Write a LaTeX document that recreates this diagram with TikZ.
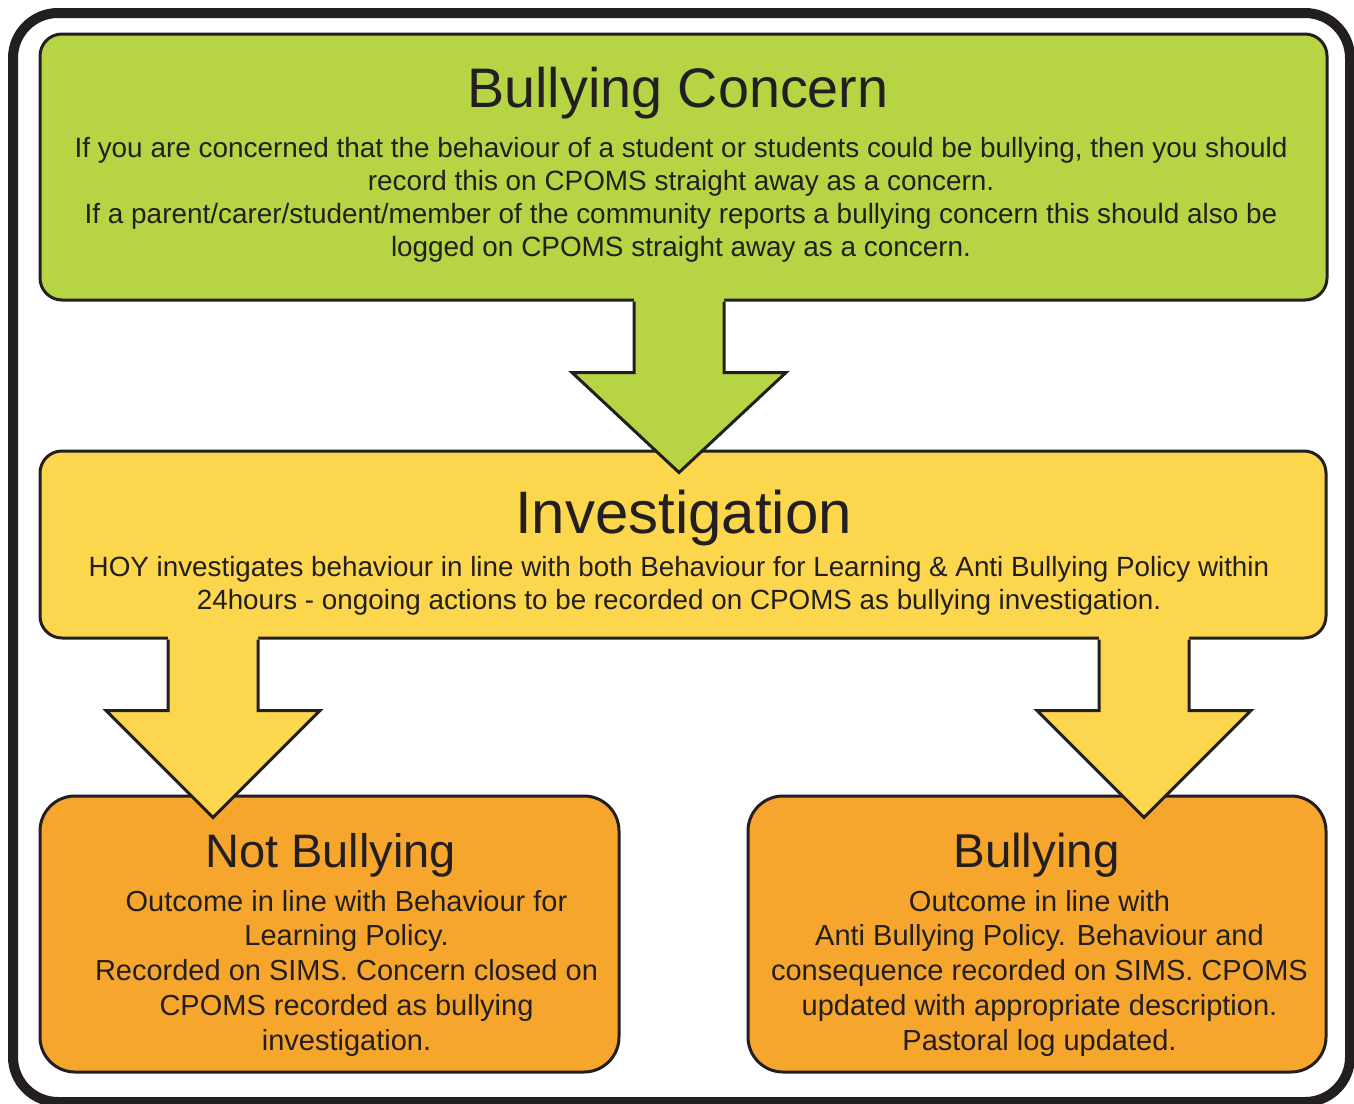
\documentclass[tikz,border=0pt]{standalone}
\usepackage{fontspec}
\setmainfont{Liberation Sans}
\usetikzlibrary{calc}
\definecolor{boxgreen}{HTML}{B6D443}
\definecolor{boxyellow}{HTML}{FCD64C}
\definecolor{boxorange}{HTML}{F6A62C}
\definecolor{ink}{HTML}{231F20}
\newcommand{\blockarrow}[4]{%
  \fill[#4] let \p1=(#1.south), \p2=(#2.north) in
    (\x1+#3pt-45pt,\y1+4pt) -- (\x1+#3pt-45pt,\y1-71pt) -- (\x1+#3pt-107pt,\y1-71pt)
    -- (\x1+#3pt,\y2-23pt) -- (\x1+#3pt+107pt,\y1-71pt) -- (\x1+#3pt+45pt,\y1-71pt)
    -- (\x1+#3pt+45pt,\y1+4pt) -- cycle;
  \draw[arrowline] let \p1=(#1.south), \p2=(#2.north) in
    (\x1+#3pt-45pt,\y1) -- (\x1+#3pt-45pt,\y1-71pt) -- (\x1+#3pt-107pt,\y1-71pt)
    -- (\x1+#3pt,\y2-23pt) -- (\x1+#3pt+107pt,\y1-71pt) -- (\x1+#3pt+45pt,\y1-71pt)
    -- (\x1+#3pt+45pt,\y1);
}
\begin{document}
\begin{tikzpicture}[x=1pt,y=-1pt,
  box/.style={draw=ink, line width=3pt, inner sep=0pt},
  arrowline/.style={draw=ink, line width=3pt, line join=miter},
  title/.style={inner sep=0pt, anchor=north, text=ink},
  body/.style={inner sep=0pt, anchor=north, align=center, text=ink}]
\useasboundingbox (0,0) rectangle (1354,1103);
\fill[white] (0,0) rectangle (1354,1103);
\node[draw=ink, line width=10pt, rounded corners=45pt, minimum width=1337pt, minimum height=1089pt, inner sep=0pt] (frame) at (681.5,557.5) {};
\node[box, fill=boxgreen, rounded corners=22pt, minimum width=1287pt, minimum height=266pt] (concern) at (683.5,167) {};
\node[box, fill=boxyellow, rounded corners=22pt, minimum width=1286pt, minimum height=187pt] (invest) at (683,544.5) {};
\node[box, fill=boxorange, rounded corners=35pt, minimum width=579pt, minimum height=276pt] (notb) at (329.5,934) {};
\node[box, fill=boxorange, rounded corners=35pt, minimum width=578pt, minimum height=276pt] (isb) at (1037,934) {};
\blockarrow{concern}{invest}{-4.5}{boxgreen}
\blockarrow{invest}{notb}{-470}{boxyellow}
\blockarrow{invest}{isb}{461}{boxyellow}
\node[title, font=\fontsize{55.7}{60}\selectfont] (t1) at (678,67.2) {Bullying Concern};
\node[body, font=\fontsize{27.9}{33}\selectfont] (b1) at (681,137) {If you are concerned that the behaviour of a student or students could be bullying, then you should\\record this on CPOMS straight away as a concern.\\If a parent/carer/student/member of the community reports a bullying concern this should also be\\logged on CPOMS straight away as a concern.};
\node[title, font=\fontsize{60}{64}\selectfont] (t2) at (683.5,490) {Investigation};
\node[body, font=\fontsize{27.8}{33.5}\selectfont] (b2) at (679,556) {HOY investigates behaviour in line with both Behaviour for Learning \& Anti Bullying Policy within\\24hours - ongoing actions to be recorded on CPOMS as bullying investigation.};
\node[title, font=\fontsize{47}{50}\selectfont] (t3) at (330.5,833) {Not Bullying};
\node[body, font=\fontsize{29}{34.7}\selectfont] (b3) at (346.5,890) {Outcome in line with Behaviour for\\Learning Policy.\\Recorded on SIMS. Concern closed on\\CPOMS recorded as bullying\\investigation.};
\node[title, font=\fontsize{47.5}{50}\selectfont] (t4) at (1036.5,833) {Bullying};
\node[body, font=\fontsize{29}{34.7}\selectfont] (b4) at (1039.5,890) {Outcome in line with\\Anti Bullying Policy. Behaviour and\\consequence recorded on SIMS. CPOMS\\updated with appropriate description.\\Pastoral log updated.};
\end{tikzpicture}
\end{document}
